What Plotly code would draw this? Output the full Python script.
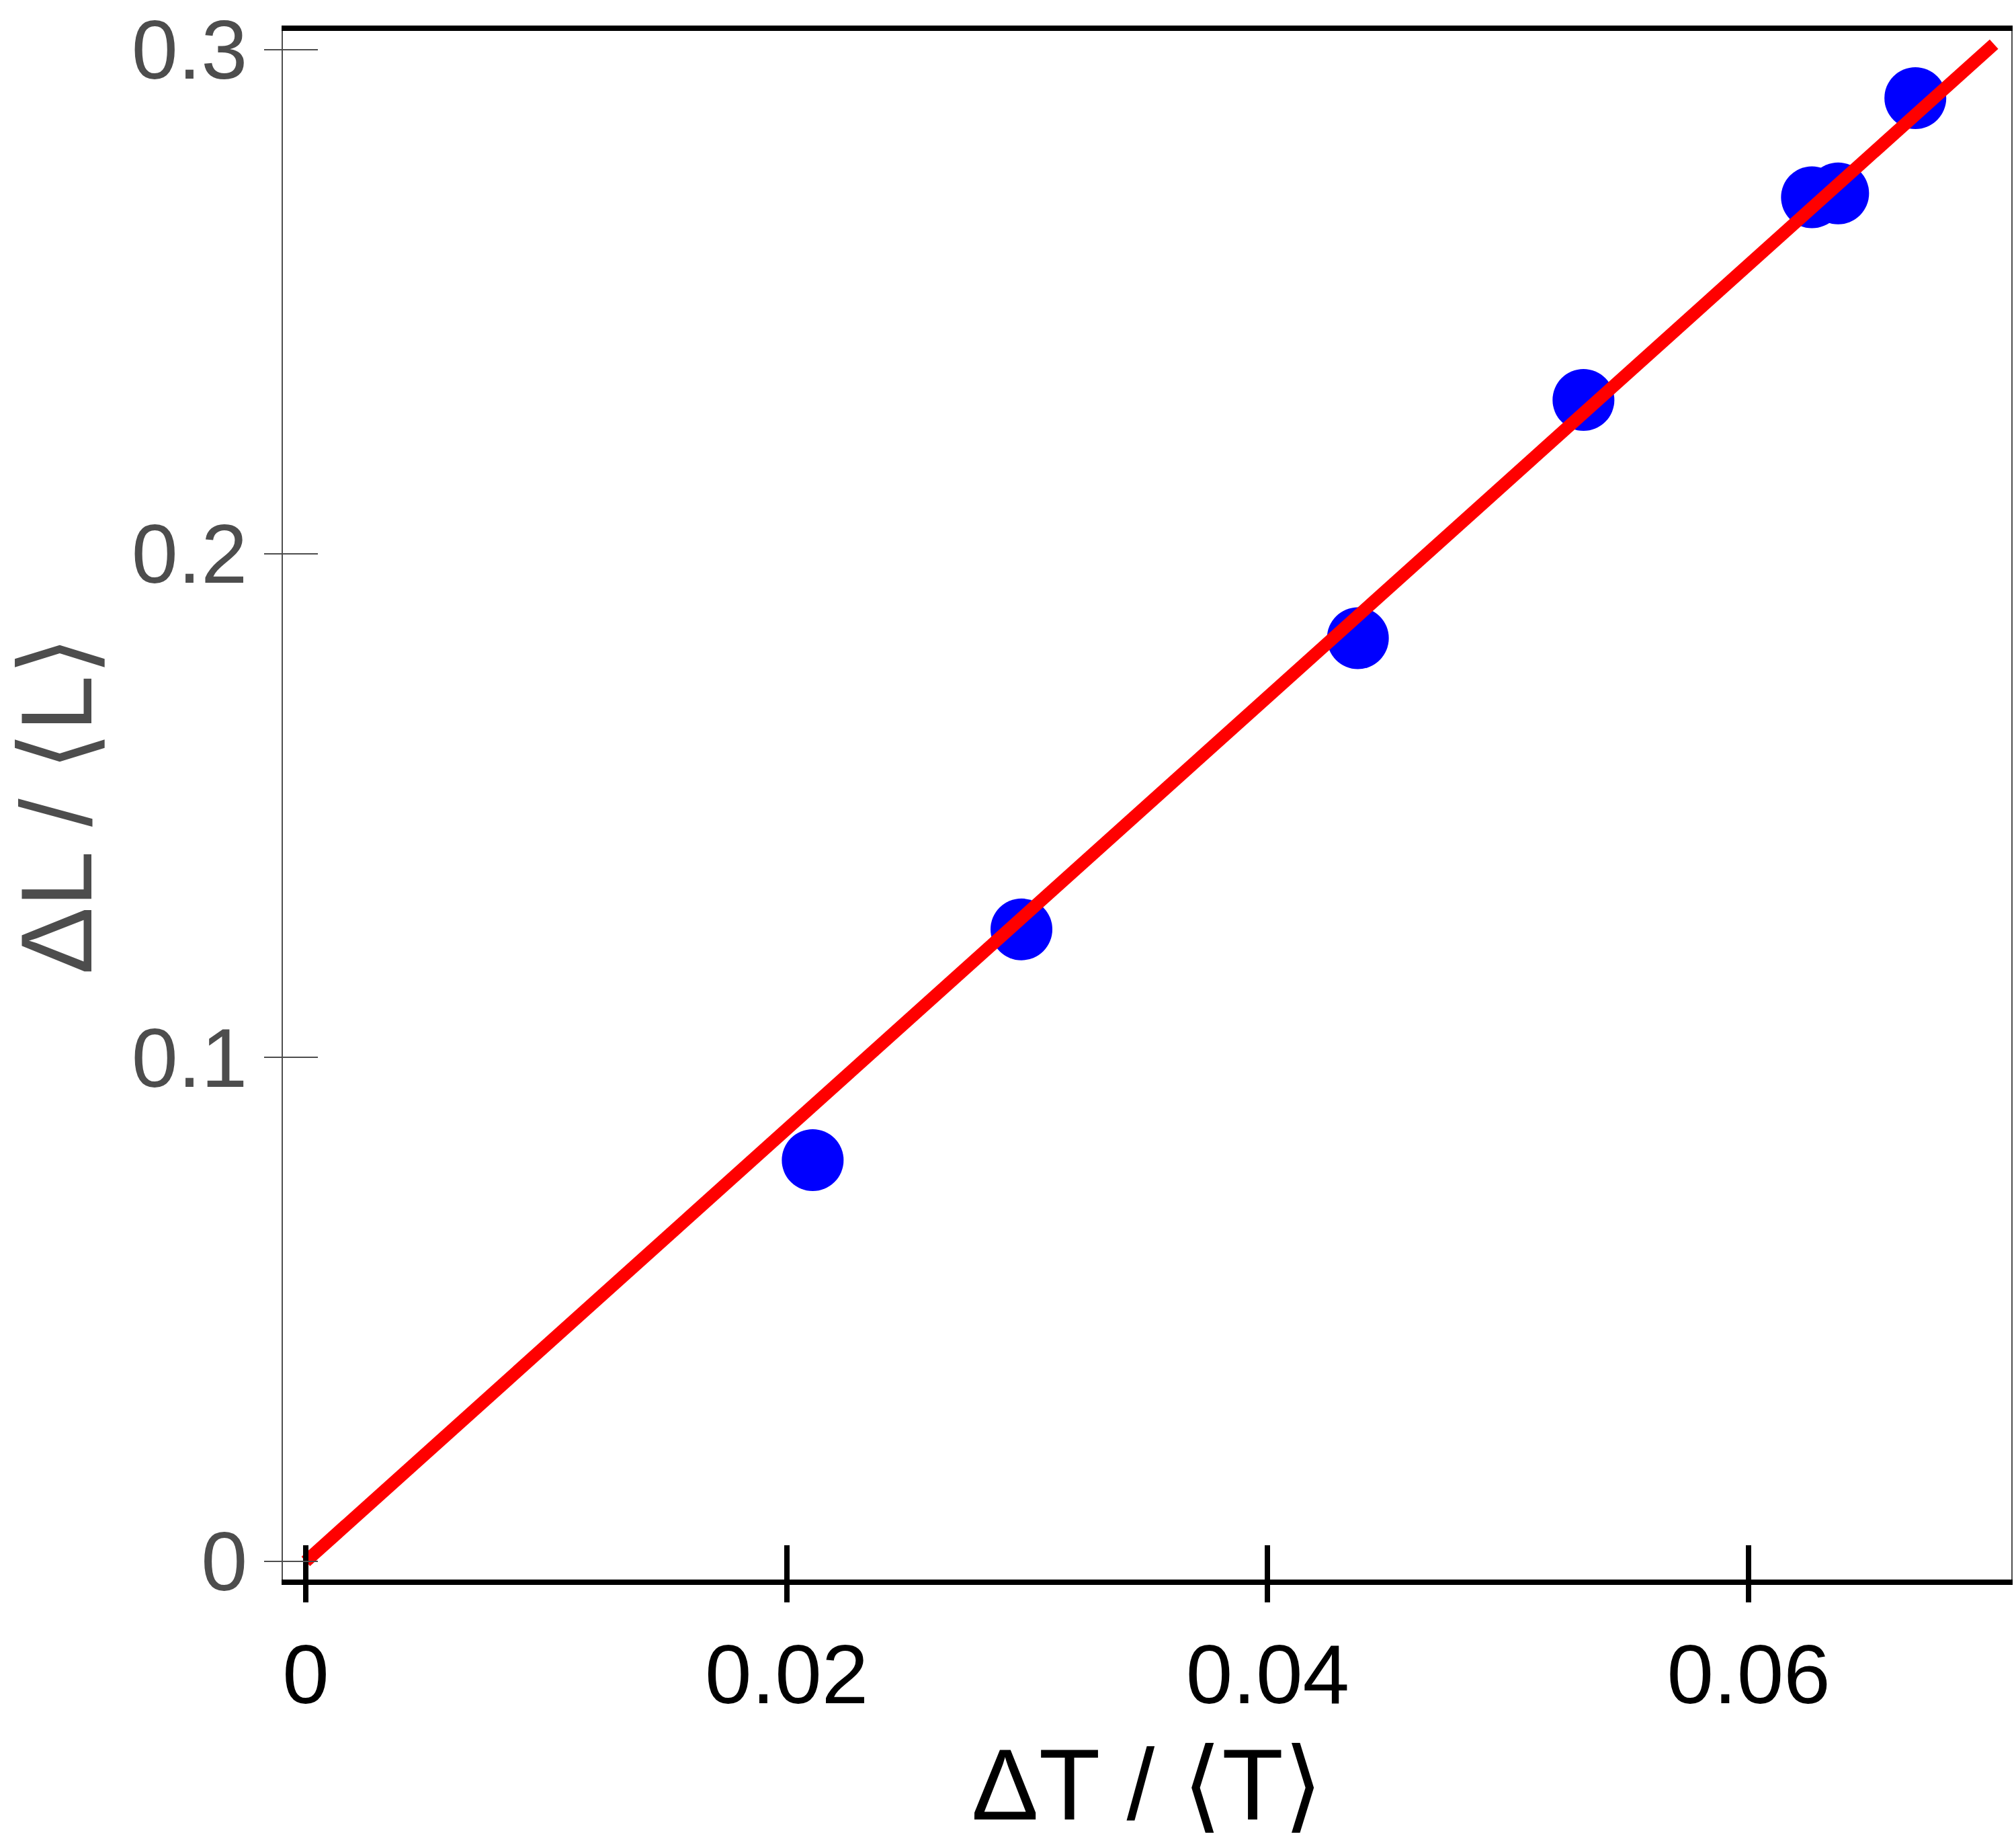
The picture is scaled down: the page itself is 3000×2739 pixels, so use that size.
import plotly.graph_objects as go

# data
x_pts = [0.02108, 0.02976, 0.04375, 0.05313, 0.06263, 0.06372, 0.06693]
y_pts = [0.07963, 0.12543, 0.18322, 0.23049, 0.27070, 0.27150, 0.29040]
fit_x = [0.0, 0.0702]
fit_y = [0.0, 0.3011]

x_ticks = [0, 0.02, 0.04, 0.06]
x_ticktext = ["0", "0.02", "0.04", "0.06"]
y_ticks = [0, 0.1, 0.2, 0.3]
y_ticktext = ["0", "0.1", "0.2", "0.3"]

x_range = [-0.00095, 0.07092]
y_range = [-0.003595, 0.30373]

FONT = "Liberation Sans, Arial, DejaVu Sans, sans-serif"
GRAY = "#4d4d4d"

fig = go.Figure()
fig.add_trace(go.Scatter(x=x_pts, y=y_pts, mode="markers",
                         marker=dict(size=92, color="#0000ff", line=dict(width=0)),
                         hoverinfo="skip"))
fig.add_trace(go.Scatter(x=fit_x, y=fit_y, mode="lines",
                         line=dict(color="#ff0000", width=19),
                         hoverinfo="skip"))
# empty trace to activate the overlay axes (inner part of the crossing ticks)
fig.add_trace(go.Scatter(x=[], y=[], xaxis="x2", yaxis="y2", mode="markers",
                         hoverinfo="skip"))

fig.update_layout(
    width=3000, height=2739,
    margin=dict(l=421, r=5, t=42, b=389),
    plot_bgcolor="white", paper_bgcolor="white",
    showlegend=False,
    font=dict(family=FONT),
    xaxis=dict(
        range=x_range, tickvals=x_ticks, ticktext=x_ticktext,
        ticks="outside", ticklen=26, tickwidth=8, tickcolor="black",
        showline=True, linecolor="black", linewidth=8, mirror=True,
        showgrid=False, zeroline=False,
        tickfont=dict(size=125, color="black", family=FONT),
        title=dict(text="ΔT / ⟨T⟩", font=dict(size=150, color="black", family=FONT), standoff=50),
    ),
    yaxis=dict(
        range=y_range, tickvals=y_ticks, ticktext=y_ticktext,
        ticks="outside", ticklen=26, tickwidth=2, tickcolor=GRAY,
        showline=True, linecolor=GRAY, linewidth=2, mirror=True,
        showgrid=False, zeroline=False,
        tickfont=dict(size=124, color=GRAY, family=FONT),
        title=dict(text="ΔL / ⟨L⟩", font=dict(size=150, color=GRAY, family=FONT), standoff=30),
    ),
    xaxis2=dict(
        overlaying="x", anchor="y2", side="bottom",
        range=x_range, tickvals=x_ticks,
        ticks="inside", ticklen=51, tickwidth=8, tickcolor="black",
        showticklabels=False, showline=False, showgrid=False, zeroline=False,
    ),
    yaxis2=dict(
        overlaying="y", anchor="x2", side="left",
        range=y_range, tickvals=y_ticks,
        ticks="inside", ticklen=52, tickwidth=2, tickcolor=GRAY,
        showticklabels=False, showline=False, showgrid=False, zeroline=False,
    ),
)

fig.write_html("out.html")
